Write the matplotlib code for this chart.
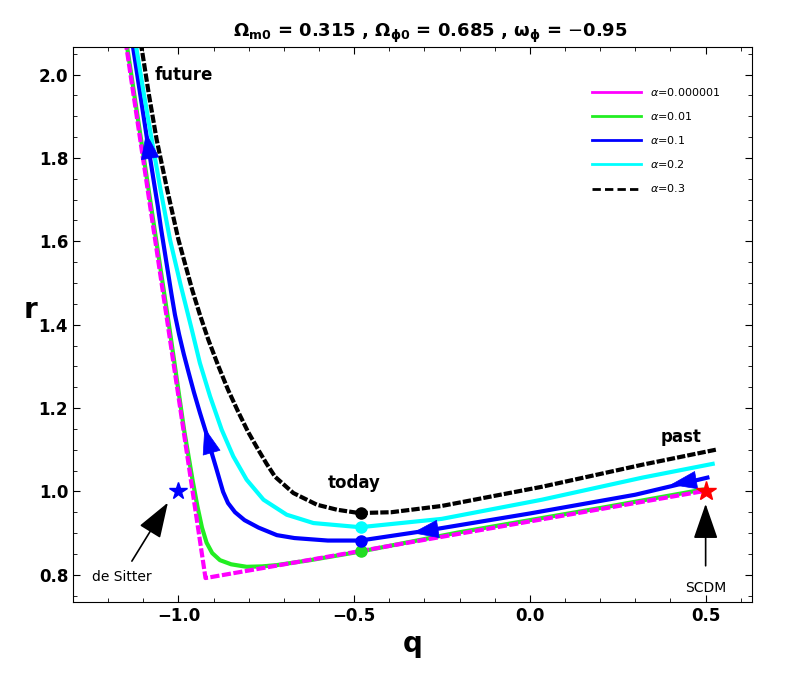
import matplotlib
matplotlib.use("Agg")
import matplotlib.pyplot as plt
from matplotlib.lines import Line2D
from matplotlib.ticker import MultipleLocator

plt.rcParams["mathtext.fontset"] = "dejavusans"

# trajectories in the (q, r) plane (past -> future)
q_mag = [0.49, -0.923, -1.154]
r_mag = [1.0, 0.792, 2.10]

q_green = [0.49, 0.2, -0.2, -0.486, -0.625, -0.721, -0.762, -0.806, -0.850, -0.882,
           -0.904, -0.920, -0.933, -0.946, -0.960, -0.984, -1.025, -1.086, -1.152]
r_green = [1.004, 0.960, 0.902, 0.855, 0.835, 0.823, 0.820, 0.819, 0.825, 0.835,
           0.852, 0.877, 0.913, 0.964, 1.028, 1.148, 1.388, 1.730, 2.100]

q_blue = [0.505, 0.3, 0.0, -0.3, -0.483, -0.575, -0.670, -0.720, -0.772, -0.812,
          -0.839, -0.859, -0.873, -0.883, -0.893, -0.906, -0.921, -0.939, -0.956,
          -0.971, -0.985, -0.998, -1.010, -1.020, -1.030, -1.040, -1.050, -1.059,
          -1.069, -1.079, -1.089, -1.099, -1.109, -1.119, -1.129, -1.132]
r_blue = [1.033, 0.992, 0.947, 0.905, 0.882, 0.882, 0.888, 0.895, 0.913, 0.931,
          0.950, 0.972, 0.999, 1.028, 1.057, 1.094, 1.140, 1.189, 1.238,
          1.285, 1.330, 1.376, 1.424, 1.474, 1.527, 1.580, 1.633, 1.686,
          1.738, 1.791, 1.844, 1.899, 1.954, 2.010, 2.065, 2.084]

q_cyan = [0.52, 0.32, 0.034, -0.251, -0.483, -0.616, -0.692, -0.758, -0.806, -0.844,
          -0.877, -0.910, -0.939, -0.962, -0.994, -1.024, -1.051, -1.076, -1.098,
          -1.119, -1.124]
r_cyan = [1.066, 1.033, 0.980, 0.934, 0.914, 0.924, 0.944, 0.980, 1.028, 1.084,
          1.148, 1.228, 1.308, 1.388, 1.496, 1.604, 1.724, 1.844, 1.952,
          2.060, 2.084]

q_black = [0.529, 0.32, 0.034, -0.251, -0.394, -0.486, -0.549, -0.606, -0.673, -0.725,
           -0.749, -0.773, -0.802, -0.830, -0.859, -0.887, -0.915, -0.939, -0.961,
           -1.000, -1.032, -1.062, -1.084, -1.104, -1.109]
r_black = [1.100, 1.064, 1.011, 0.965, 0.950, 0.948, 0.956, 0.968, 0.996, 1.035,
           1.066, 1.100, 1.143, 1.191, 1.244, 1.302, 1.364, 1.424, 1.484,
           1.604, 1.724, 1.844, 1.952, 2.060, 2.084]

# today points
q_today = -0.48
r_today = [0.856, 0.882, 0.914, 0.948]
today_colors = ["#22dd22", "blue", "cyan", "black"]

labels = [r"$\alpha$=0.000001", r"$\alpha$=0.01", r"$\alpha$=0.1",
          r"$\alpha$=0.2", r"$\alpha$=0.3"]

# direction arrows on the alpha=0.1 curve (tail, tip)
arrows = [((0.48, 1.028), (0.40, 1.016)),
          ((-0.26, 0.910), (-0.335, 0.900)),
          ((-0.904, 1.088), (-0.926, 1.153)),
          ((-1.080, 1.796), (-1.092, 1.861))]

fig = plt.figure(figsize=(7.85, 6.87), dpi=100)
ax = fig.add_axes([0.093, 0.124, 0.865, 0.808])

ax.plot(q_green, r_green, color="#22ee22", lw=3, solid_joinstyle="round")
ax.plot(q_mag, r_mag, color="magenta", lw=3, ls=(0, (2.2, 0.6)))
ax.plot(q_blue, r_blue, color="blue", lw=3, solid_joinstyle="round")
ax.plot(q_cyan, r_cyan, color="cyan", lw=3, solid_joinstyle="round")
ax.plot(q_black, r_black, color="black", lw=3, ls=(0, (2, 0.5)))

for rt, c in zip(r_today, today_colors):
    ax.plot(q_today, rt, "o", color=c, ms=8, zorder=5)

for tail, tip in arrows:
    ax.annotate("", xy=tip, xytext=tail,
                arrowprops=dict(arrowstyle="-|>,head_length=1.2,head_width=0.42",
                                color="blue", lw=0.5, shrinkA=0, shrinkB=0,
                                mutation_scale=15), zorder=6)

ax.plot(-1.0, 1.0, "*", color="blue", ms=13, zorder=6)
ax.plot(0.5, 1.0, "*", color="red", ms=15, zorder=6)

ax.annotate("de Sitter", xy=(-1.03, 0.973), xytext=(-1.16, 0.795),
            ha="center", va="center", fontsize=10,
            arrowprops=dict(arrowstyle="-|>,head_length=1.3,head_width=0.45",
                            color="black", lw=1.2, mutation_scale=17,
                            shrinkA=5, shrinkB=0))
ax.annotate("SCDM", xy=(0.5, 0.970), xytext=(0.5, 0.768),
            ha="center", va="center", fontsize=10,
            arrowprops=dict(arrowstyle="-|>,head_length=1.3,head_width=0.45",
                            color="black", lw=1.2, mutation_scale=17,
                            shrinkA=9, shrinkB=0))

ax.text(-0.985, 2.0, "future", fontsize=12, fontweight="bold", ha="center", va="center")
ax.text(-0.5, 1.02, "today", fontsize=12, fontweight="bold", ha="center", va="center")
ax.text(0.43, 1.13, "past", fontsize=12, fontweight="bold", ha="center", va="center")

handles = [Line2D([], [], color="magenta", lw=2),
           Line2D([], [], color="#22ee22", lw=2),
           Line2D([], [], color="blue", lw=2),
           Line2D([], [], color="cyan", lw=2),
           Line2D([], [], color="black", lw=2, ls=(0, (3, 1.5)))]
ax.legend(handles, labels, loc="upper left", bbox_to_anchor=(0.75, 0.948),
          frameon=False, fontsize=8, handlelength=4.4, labelspacing=1.1)

ax.set_xlim(-1.3, 0.632)
ax.set_ylim(0.735, 2.067)
ax.xaxis.set_major_locator(MultipleLocator(0.5))
ax.xaxis.set_minor_locator(MultipleLocator(0.1))
ax.yaxis.set_major_locator(MultipleLocator(0.2))
ax.yaxis.set_minor_locator(MultipleLocator(0.05))
ax.tick_params(which="both", direction="in", top=True, right=True)
ax.tick_params(which="major", length=5, labelsize=12)
ax.tick_params(which="minor", length=3)
for lab in ax.get_xticklabels() + ax.get_yticklabels():
    lab.set_fontweight("bold")

ax.set_xlabel("q", fontsize=20, fontweight="bold")
ax.set_ylabel("r", fontsize=20, fontweight="bold", rotation=0)
ax.yaxis.set_label_coords(-0.062, 0.5)
ax.set_title(r"$\mathbf{\Omega_{m0}}$ = 0.315 , $\mathbf{\Omega_{\phi0}}$ = 0.685 , "
             r"$\mathbf{\omega_{\phi}}$ = $-$0.95", fontsize=13, fontweight="bold",
             pad=7, x=0.526)

fig.savefig("out.png", dpi=100)
